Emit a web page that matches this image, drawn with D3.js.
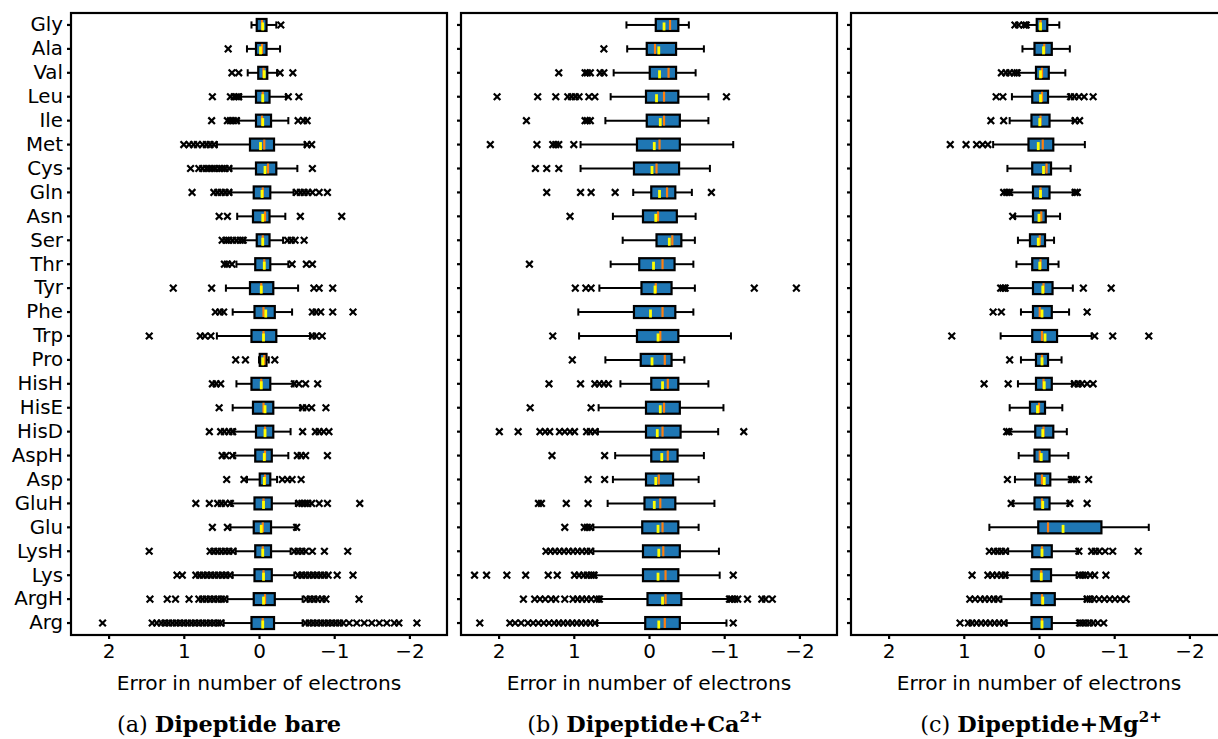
<!DOCTYPE html>
<html>
<head>
<meta charset="utf-8">
<script src="https://cdn.jsdelivr.net/npm/d3@7"></script>
<style>
  body { margin: 0; background: #fff; }
  text { font-family: "DejaVu Sans", sans-serif; }
</style>
</head>
<body>
<svg id="chart" width="1218" height="739"></svg>
<script>
var categories = ["Gly","Ala","Val","Leu","Ile","Met","Cys","Gln","Asn","Ser","Thr","Tyr","Phe","Trp","Pro",
                  "HisH","HisE","HisD","AspH","Asp","GluH","Glu","LysH","Lys","ArgH","Arg"];

var xTicks = [2, 1, 0, -1, -2];

// [whisker min, q1, median, q3, whisker max, mean]
var statsBare = [
  [-0.23,-0.10,-0.04,0.03,0.10,-0.05],[-0.28,-0.10,-0.04,0.04,0.16,-0.02],[-0.24,-0.11,-0.06,0.01,0.15,-0.07],
  [-0.36,-0.14,-0.05,0.04,0.24,-0.05],[-0.39,-0.16,-0.04,0.04,0.27,-0.05],[-0.61,-0.20,-0.07,0.12,0.56,-0.02],
  [-0.51,-0.23,-0.12,0.04,0.37,-0.08],[-0.46,-0.15,-0.05,0.07,0.37,-0.04],[-0.35,-0.14,-0.08,0.08,0.29,-0.05],
  [-0.32,-0.14,-0.05,0.03,0.19,-0.05],[-0.39,-0.15,-0.07,0.05,0.30,-0.07],[-0.52,-0.19,-0.03,0.12,0.44,-0.03],
  [-0.44,-0.21,-0.06,0.06,0.35,-0.09],[-0.68,-0.23,-0.06,0.10,0.56,-0.06],[-0.13,-0.10,-0.07,-0.01,0.00,-0.05],
  [-0.46,-0.15,-0.03,0.10,0.30,-0.03],[-0.55,-0.19,-0.06,0.08,0.35,-0.08],[-0.42,-0.19,-0.08,0.04,0.33,-0.08],
  [-0.39,-0.17,-0.08,0.05,0.33,-0.07],[-0.24,-0.15,-0.08,-0.01,0.16,-0.07],[-0.49,-0.17,-0.06,0.06,0.37,-0.06],
  [-0.49,-0.16,-0.05,0.07,0.38,-0.03],[-0.42,-0.16,-0.05,0.05,0.31,-0.05],[-0.47,-0.17,-0.06,0.06,0.35,-0.06],
  [-0.58,-0.21,-0.08,0.07,0.42,-0.06],[-0.58,-0.20,-0.05,0.10,0.47,-0.05]
];
var outBare = [
  [-0.29],[0.41],[0.36,0.27,-0.28,-0.45],[0.62,0.38,0.33,0.30,0.27,-0.39,-0.53],
  [0.63,0.42,0.38,0.34,0.30,-0.52,-0.59,-0.64],[1.0,0.93,0.87,0.82,0.75,0.70,0.65,0.60,-0.64,-0.70],
  [0.91,0.80,0.75,0.70,0.66,0.62,0.58,0.53,0.49,0.45,0.40,-0.71],
  [0.89,0.60,0.55,0.50,0.45,0.40,-0.50,-0.55,-0.60,-0.65,-0.71,-0.80,-0.91],
  [0.53,0.42,-0.55,-1.10],[0.49,0.44,0.40,0.35,0.30,0.25,0.21,-0.38,-0.43,-0.48,-0.60],
  [0.46,0.42,0.36,-0.44,-0.63,-0.71],[1.14,0.63,-0.73,-0.80,-0.98],[0.58,0.52,0.47,-0.71,-0.76,-0.82,-0.98,-1.25],
  [1.46,0.78,0.72,0.64,-0.71,-0.76,-0.84],[0.31,0.18,-0.21],[0.62,0.57,0.51,-0.47,-0.53,-0.62,-0.78],
  [0.53,-0.58,-0.63,-0.70,-0.89],[0.66,0.51,0.46,0.40,0.35,-0.58,-0.75,-0.80,-0.86,-0.93],
  [0.49,0.44,0.35,-0.51,-0.56,-0.62,-0.91],[0.43,0.20,-0.31,-0.38,-0.44,-0.56],
  [0.84,0.66,0.55,0.50,0.45,0.38,-0.53,-0.57,-0.61,-0.65,-0.70,-0.80,-0.91,-1.34],[0.62,0.42,-0.50],
  [1.46,0.65,0.60,0.55,0.50,0.45,0.40,0.35,-0.47,-0.52,-0.57,-0.62,-0.71,-0.87,-1.18],
  [1.09,1.02,0.84,0.79,0.74,0.69,0.64,0.59,0.54,0.49,0.44,0.39,-0.52,-0.57,-0.62,-0.67,-0.72,-0.77,-0.82,-0.87,-0.92,-1.04,-1.25],
  [1.45,1.22,1.11,0.93,0.80,0.75,0.70,0.65,0.60,0.55,0.50,0.46,-0.63,-0.68,-0.73,-0.78,-0.84,-0.89,-1.33],
  [2.08,1.42,1.36,1.30,1.25,1.20,1.15,1.10,1.05,1.00,0.95,0.90,0.85,0.80,0.75,0.70,0.65,0.60,0.55,0.51,
   -0.62,-0.67,-0.72,-0.77,-0.82,-0.87,-0.92,-0.97,-1.02,-1.07,-1.12,-1.20,-1.30,-1.40,-1.50,-1.60,-1.70,-1.80,-1.86,-2.10]
];

var statsCa = [
  [-0.53,-0.39,-0.28,-0.09,0.30,-0.20],[-0.73,-0.36,-0.08,0.03,0.29,-0.13],[-0.62,-0.36,-0.26,-0.01,0.47,-0.14],
  [-0.79,-0.39,-0.20,0.04,0.51,-0.10],[-0.79,-0.41,-0.20,0.03,0.58,-0.15],[-1.12,-0.41,-0.14,0.16,0.91,-0.07],
  [-0.81,-0.40,-0.10,0.20,0.91,-0.04],[-0.57,-0.35,-0.24,-0.03,0.21,-0.14],[-0.62,-0.37,-0.12,0.08,0.48,-0.09],
  [-0.61,-0.43,-0.31,-0.10,0.35,-0.27],[-0.59,-0.34,-0.18,0.13,0.51,-0.06],[-0.61,-0.30,-0.09,0.10,0.66,-0.08],
  [-0.59,-0.35,-0.18,0.20,0.94,-0.02],[-1.09,-0.39,-0.15,0.16,0.93,-0.12],[-0.47,-0.30,-0.21,0.11,0.58,-0.04],
  [-0.79,-0.39,-0.25,-0.03,0.38,-0.18],[-0.99,-0.41,-0.20,0.04,0.67,-0.15],[-0.92,-0.42,-0.18,0.04,0.68,-0.11],
  [-0.73,-0.38,-0.25,-0.03,0.45,-0.17],[-0.66,-0.32,-0.13,0.04,0.48,-0.09],[-0.87,-0.35,-0.15,0.06,0.55,-0.07],
  [-0.66,-0.39,-0.18,0.09,0.74,-0.12],[-0.93,-0.41,-0.19,0.08,0.74,-0.13],[-0.94,-0.39,-0.22,0.08,0.71,-0.12],
  [-1.05,-0.43,-0.22,0.02,0.65,-0.18],[-1.03,-0.41,-0.21,0.05,0.69,-0.13]
];
var outCa = [
  [],[0.60],[1.20,0.85,0.82,0.78,0.65,0.60],[2.02,1.48,1.24,1.08,1.03,0.98,0.93,0.80,0.72,-1.03],
  [1.63,0.85,0.82,0.78],[2.11,1.49,1.28,1.24,1.20,1.00],[1.51,1.36,1.20],[1.36,0.91,0.77,0.45,-0.83],
  [1.05],[],[1.59],[0.98,0.84,0.77,-1.40,-1.96],[],[1.28],[1.02],[1.33,0.91,0.72,0.66,0.60,0.54],
  [1.58,0.77],[1.99,1.74,1.45,1.38,1.32,1.19,1.12,1.05,0.99,0.83,0.78,0.72,-1.26],[1.29,0.59],[0.81,0.59],
  [1.47,1.43,1.10,0.81],[1.12,0.86,0.82,0.78],[1.37,1.31,1.25,1.19,1.13,1.07,1.01,0.95,0.89,0.83,0.78],
  [2.32,2.16,1.89,1.64,1.34,1.22,0.99,0.93,0.87,0.82,0.77,0.73,-1.12],
  [1.67,1.52,1.45,1.38,1.30,1.24,1.12,1.01,0.95,0.89,0.83,0.77,0.70,0.66,-1.07,-1.10,-1.14,-1.18,-1.31,-1.50,-1.55,-1.64],
  [2.25,1.85,1.78,1.70,1.61,1.54,1.47,1.40,1.33,1.26,1.20,1.14,1.08,1.02,0.96,0.90,0.84,0.78,0.72,-1.12]
];

var statsMg = [
  [-0.27,-0.11,-0.02,0.03,0.15,-0.02],[-0.41,-0.17,-0.07,0.06,0.22,-0.06],[-0.35,-0.13,-0.04,0.04,0.27,-0.02],
  [-0.40,-0.12,-0.04,0.09,0.36,-0.02],[-0.45,-0.14,-0.02,0.10,0.39,-0.01],[-0.61,-0.19,-0.05,0.14,0.61,0.01],
  [-0.42,-0.16,-0.10,0.09,0.42,-0.06],[-0.45,-0.14,-0.02,0.08,0.37,-0.02],[-0.28,-0.09,-0.03,0.08,0.32,0.00],
  [-0.20,-0.08,-0.01,0.12,0.28,0.01],[-0.26,-0.12,-0.02,0.09,0.30,-0.01],[-0.45,-0.18,-0.06,0.08,0.43,-0.05],
  [-0.40,-0.17,-0.01,0.08,0.24,-0.04],[-0.70,-0.24,-0.04,0.09,0.51,-0.08],[-0.30,-0.12,-0.04,0.04,0.24,-0.04],
  [-0.44,-0.17,-0.06,0.04,0.28,-0.07],[-0.31,-0.08,0.00,0.12,0.39,0.02],[-0.37,-0.19,-0.06,0.05,0.39,-0.05],
  [-0.39,-0.14,-0.01,0.06,0.27,-0.03],[-0.41,-0.15,-0.04,0.05,0.32,-0.07],[-0.39,-0.14,-0.04,0.06,0.35,-0.05],
  [-1.46,-0.83,-0.12,0.01,0.66,-0.32],[-0.52,-0.17,-0.04,0.09,0.41,-0.04],[-0.50,-0.16,-0.03,0.10,0.43,-0.03],
  [-0.61,-0.21,-0.04,0.10,0.50,-0.05],[-0.52,-0.17,-0.04,0.10,0.43,-0.04]
];
var outMg = [
  [0.32,0.27,0.20,0.17],[],[0.50,0.44,0.39,0.33,0.29],[0.57,0.48,-0.42,-0.47,-0.53,-0.60,-0.72],
  [0.64,0.47,-0.48,-0.54],[1.18,0.97,0.83,0.75,0.68],[],[0.47,0.43,0.39,-0.48,-0.51],[0.35],[],[],
  [0.51,0.48,0.45,-0.59,-0.96],[0.61,0.50,-0.64],[1.16,-0.74,-0.98,-1.46],[0.39],
  [0.73,0.41,-0.47,-0.52,-0.57,-0.64,-0.72],[],[0.43,0.40],[],[0.42,-0.43,-0.46,-0.50,-0.66],[0.37,-0.41,-0.64],[],
  [0.66,0.60,0.55,0.50,0.45,-0.53,-0.70,-0.75,-0.80,-0.88,-0.98,-1.32],
  [0.89,0.68,0.62,0.56,0.50,0.45,-0.54,-0.58,-0.62,-0.68,-0.74,-0.89],
  [0.92,0.85,0.78,0.72,0.66,0.60,0.55,-0.64,-0.68,-0.73,-0.80,-0.87,-0.94,-1.01,-1.08,-1.16],
  [1.05,0.94,0.89,0.83,0.77,0.71,0.65,0.59,0.53,0.47,-0.54,-0.58,-0.62,-0.67,-0.72,-0.78,-0.86]
];

var svg = d3.select("#chart");
var plotTop = 13, plotH = 622, plotW = 376;

var y = d3.scaleBand().domain(categories).range([plotTop, plotTop + plotH]).padding(0);
var bw = y.bandwidth();

function panel(left, stats, outs, showLabels) {
  var x = d3.scaleLinear().domain([2.5, -2.5]).range([left, left + plotW]);
  var g = svg.append("g");

  var rows = g.selectAll(".row")
    .data(categories.map(function(c, i) { return {cat: c, s: stats[i], o: outs[i]}; }))
    .enter().append("g")
      .attr("class", "row")
      .attr("transform", function(d) { return "translate(0," + (y(d.cat) + bw / 2) + ")"; });

  // whiskers
  rows.append("line").attr("x1", function(d) { return x(d.s[4]); }).attr("x2", function(d) { return x(d.s[3]); })
      .attr("stroke", "#000").attr("stroke-width", 2);
  rows.append("line").attr("x1", function(d) { return x(d.s[1]); }).attr("x2", function(d) { return x(d.s[0]); })
      .attr("stroke", "#000").attr("stroke-width", 2);
  // caps
  [0, 4].forEach(function(k) {
    rows.append("line")
        .attr("x1", function(d) { return x(d.s[k]); }).attr("x2", function(d) { return x(d.s[k]); })
        .attr("y1", -bw * 0.15).attr("y2", bw * 0.15)
        .attr("stroke", "#000").attr("stroke-width", 2);
  });
  // box
  rows.append("rect")
      .attr("x", function(d) { return x(d.s[3]); })
      .attr("width", function(d) { return x(d.s[1]) - x(d.s[3]); })
      .attr("y", -bw / 4).attr("height", bw / 2)
      .attr("fill", "#1f77b4").attr("stroke", "#000").attr("stroke-width", 2.2);
  // median
  rows.append("line")
      .attr("x1", function(d) { return x(d.s[2]); }).attr("x2", function(d) { return x(d.s[2]); })
      .attr("y1", -bw / 4 + 1).attr("y2", bw / 4 - 1)
      .attr("stroke", "#ff7f0e").attr("stroke-width", 2.2);
  // mean
  rows.append("line")
      .attr("x1", function(d) { return x(d.s[5]); }).attr("x2", function(d) { return x(d.s[5]); })
      .attr("y1", -2.5).attr("y2", 5.5)
      .attr("stroke", "#ffff00").attr("stroke-width", 2.8);
  // fliers
  rows.selectAll(".flier")
    .data(function(d) { return d.o; })
    .enter().append("path")
      .attr("class", "flier")
      .attr("transform", function(v) { return "translate(" + x(v) + ",0)"; })
      .attr("d", "M-3.3,-3.3L3.3,3.3M-3.3,3.3L3.3,-3.3")
      .attr("stroke", "#000").attr("stroke-width", 2.2).attr("fill", "none");

  // frame
  g.append("rect").attr("x", left).attr("y", plotTop).attr("width", plotW).attr("height", plotH)
      .attr("fill", "none").attr("stroke", "#000").attr("stroke-width", 2.2);

  var xa = g.append("g")
      .attr("transform", "translate(0," + (plotTop + plotH) + ")")
      .call(d3.axisBottom(x).tickValues(xTicks).tickSize(4).tickPadding(5).tickFormat(d3.format("d")));
  xa.select(".domain").remove();
  xa.selectAll("line").attr("stroke-width", 2.2);
  xa.selectAll("text").style("font-family", "DejaVu Sans").style("font-size", "20px").attr("fill", "#000");

  var ya = g.append("g")
      .attr("transform", "translate(" + left + ",0)")
      .call(d3.axisLeft(y).tickSize(4).tickPadding(4).tickFormat(showLabels ? null : function() { return ""; }));
  ya.select(".domain").remove();
  ya.selectAll("line").attr("stroke-width", 2.2);
  ya.selectAll("text").style("font-family", "DejaVu Sans").style("font-size", "19.8px").attr("fill", "#000");

  g.append("text")
      .attr("x", left + plotW / 2).attr("y", 690)
      .attr("text-anchor", "middle")
      .style("font-size", "20.2px")
      .text("Error in number of electrons");
}

panel(71, statsBare, outBare, true);
panel(461, statsCa, outCa, false);
panel(851, statsMg, outMg, false);

function caption(cx, tag, name, sup) {
  var t = svg.append("text")
      .attr("x", cx).attr("y", 732)
      .attr("text-anchor", "middle")
      .style("font-family", "DejaVu Serif, serif")
      .style("font-size", "22.4px");
  t.append("tspan").text(tag + " ");
  t.append("tspan").style("font-weight", "bold").text(name);
  if (sup) {
    t.append("tspan").style("font-weight", "bold").style("font-size", "15px")
        .attr("dy", -10).text(sup);
  }
}
caption(229, "(a)", "Dipeptide bare", null);
caption(645, "(b)", "Dipeptide+Ca", "2+");
caption(1041, "(c)", "Dipeptide+Mg", "2+");
</script>
</body>
</html>
